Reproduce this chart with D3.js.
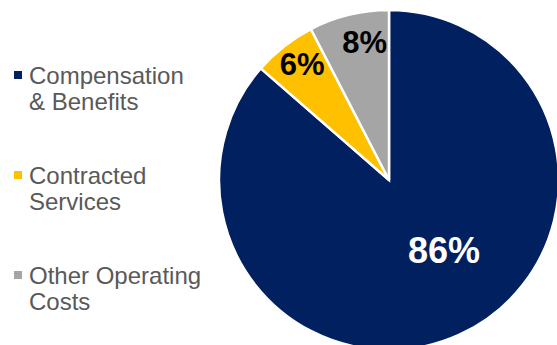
<!DOCTYPE html>
<html>
<head>
<meta charset="utf-8">
<script src="https://cdn.jsdelivr.net/npm/d3@7/dist/d3.min.js"></script>
<style>
  html, body { margin: 0; padding: 0; background: #ffffff; }
  svg { display: block; }
</style>
</head>
<body>
<svg id="chart" width="557" height="345"></svg>
<script>
// ---- data ----
const categories = ["Compensation & Benefits", "Contracted Services", "Other Operating Costs"];
const legendLines = [["Compensation", "& Benefits"], ["Contracted", "Services"], ["Other Operating", "Costs"]];
const values = [86.4, 6.0, 7.6];
const valueLabels = ["86%", "6%", "8%"];
const colors = ["#002060", "#FFC000", "#A5A5A5"];

// ---- layout ----
const W = 557, H = 345;
const cx = 389, cy = 180, R = 170;
const svg = d3.select("#chart");

const pie = d3.pie().sort(null).value(d => d).startAngle(0).endAngle(2 * Math.PI);
const arcs = pie(values);
const arc = d3.arc().innerRadius(0).outerRadius(R);

const g = svg.append("g").attr("transform", `translate(${cx},${cy})`);
g.selectAll("path.slice")
  .data(arcs)
  .enter().append("path")
  .attr("class", "slice")
  .attr("d", arc)
  .attr("fill", (d, i) => colors[i])
  .attr("stroke", "#ffffff")
  .attr("stroke-width", 2.5)
  .attr("stroke-linejoin", "miter");

// label placement: radius factor + angle shift per slice (style only)
const labelStyle = [
  { rf: 0.524, shift: -0.239, size: 36, color: "#ffffff" },
  { rf: 0.85, shift: 0.022, size: 31, color: "#000000" },
  { rf: 0.82, shift: 0.064, size: 31, color: "#000000" }
];
g.selectAll("text.lbl")
  .data(arcs)
  .enter().append("text")
  .attr("class", "lbl")
  .each(function(d, i) {
    const s = labelStyle[i];
    const a = (d.startAngle + d.endAngle) / 2 + s.shift;
    const r = R * s.rf;
    d3.select(this)
      .attr("x", r * Math.sin(a))
      .attr("y", -r * Math.cos(a))
      .attr("font-size", s.size + "px")
      .attr("fill", s.color);
  })
  .attr("text-anchor", "middle")
  .attr("dominant-baseline", "central")
  .attr("font-family", "'Liberation Sans', Arial, sans-serif")
  .attr("font-weight", "bold")
  .text((d, i) => valueLabels[i]);

// ---- legend ----
const legendY = d3.scalePoint().domain(categories).range([84, 284]);
const lg = svg.append("g");
const items = lg.selectAll("g.item")
  .data(categories)
  .enter().append("g")
  .attr("class", "item")
  .attr("transform", d => `translate(0,${legendY(d)})`);

items.append("rect")
  .attr("x", 14).attr("y", -13)
  .attr("width", 8).attr("height", 8)
  .attr("fill", (d, i) => colors[i]);

items.append("text")
  .attr("x", 29)
  .attr("y", 0)
  .attr("font-family", "'Liberation Sans', Arial, sans-serif")
  .attr("font-size", "24px")
  .attr("fill", "#595959")
  .selectAll("tspan")
  .data((d, i) => legendLines[i])
  .enter().append("tspan")
  .attr("x", 29)
  .attr("dy", (d, j) => j === 0 ? 0 : 25.5)
  .text(d => d);
</script>
</body>
</html>
